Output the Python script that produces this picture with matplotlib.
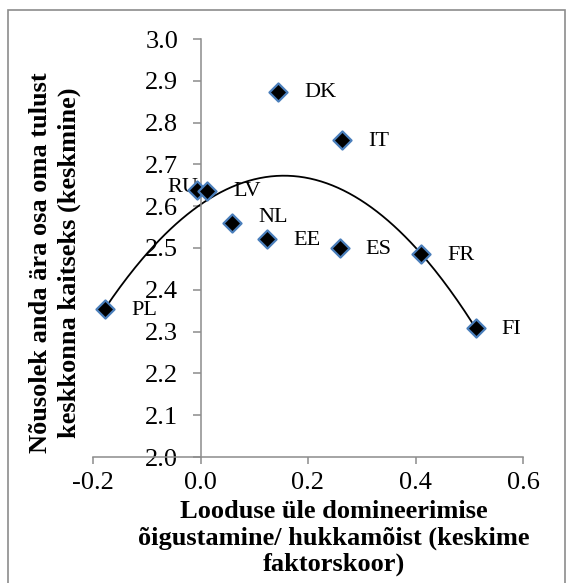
import numpy as np
import matplotlib
matplotlib.use('Agg')
import matplotlib.pyplot as plt
from matplotlib.patches import Rectangle

# Data
countries = ["DK", "IT", "RU", "LV", "NL", "EE", "ES", "FR", "FI", "PL"]
x_vals = [0.144, 0.263, -0.006, 0.012, 0.058, 0.124, 0.259, 0.411, 0.512, -0.177]
y_vals = [2.874, 2.758, 2.639, 2.637, 2.559, 2.521, 2.499, 2.485, 2.308, 2.353]
x_ticks = [-0.2, 0.0, 0.2, 0.4, 0.6]
y_ticks = [2.0, 2.1, 2.2, 2.3, 2.4, 2.5, 2.6, 2.7, 2.8, 2.9, 3.0]

y_title = "Nõusolek anda ära osa oma tulust\nkeskkonna kaitseks (keskmine)"
x_title = "Looduse üle domineerimise\nõigustamine/ hukkamõist (keskime\nfaktorskoor)"

W, H = 566, 583
plt.rcParams['font.family'] = ['Liberation Serif', 'DejaVu Serif']

fig = plt.figure(figsize=(W / 100, H / 100), dpi=100)
ax = fig.add_axes([93 / W, 1 - 457 / H, (523 - 93) / W, (457 - 39) / H])

# axis lines: vertical axis crosses at x = 0 (set before ticks, it resets them)
for s in ['top', 'right']:
    ax.spines[s].set_visible(False)
ax.spines['left'].set_position(('data', 0))
for s in ['left', 'bottom']:
    ax.spines[s].set_color('#8c8c8c')
    ax.spines[s].set_linewidth(1.1)

# polynomial (order 2) trendline, as in the spreadsheet
coef = np.polyfit(x_vals, y_vals, 2)
xs = np.linspace(min(x_vals), max(x_vals), 200)
ax.plot(xs, np.polyval(coef, xs), color='black', lw=1.3, zorder=2)

ax.scatter(x_vals, y_vals, marker='D', s=85, facecolor='black',
           edgecolor='#4a7ebb', linewidth=1.6, zorder=3)

for name, x, y in zip(countries, x_vals, y_vals):
    if name == "RU":
        ax.annotate(name, (x, y), xytext=(1, 2), textcoords='offset pixels',
                    ha='right', va='center', fontsize=16, zorder=2)
    elif name == "NL":
        ax.annotate(name, (x, y), xytext=(27, 6), textcoords='offset pixels',
                    ha='left', va='center', fontsize=16)
    else:
        ax.annotate(name, (x, y), xytext=(26, -1), textcoords='offset pixels',
                    ha='left', va='center', fontsize=16)

ax.set_xlim(-0.2, 0.6)
ax.set_ylim(2.0, 3.0)
ax.set_xticks(x_ticks)
ax.set_yticks(y_ticks)
ax.set_xticklabels([f"{t:.1f}" for t in x_ticks])
ax.set_yticklabels([f"{t:.1f}" for t in y_ticks])
ax.tick_params(axis='y', direction='out', length=6, width=1.1, color='#8c8c8c',
               pad=10, labelsize=19)
ax.tick_params(axis='x', direction='out', length=5, width=1.1, color='#8c8c8c',
               pad=6, labelsize=19)
ax.patch.set_visible(False)

fig.text(55 / W, 1 - 263 / H, y_title, rotation=90, ha='center', va='center',
         fontsize=19, fontweight='bold', linespacing=1.3, multialignment='center')
fig.text(334 / W, 1 - 538 / H, x_title, ha='center', va='center',
         fontsize=19, fontweight='bold', linespacing=1.18, multialignment='center')

fig.patches.append(Rectangle((8 / W, -0.01), (565 - 8) / W, 1 - 10 / H + 0.01,
                             transform=fig.transFigure, fill=False,
                             edgecolor='#8c8c8c', lw=1.2))

fig.savefig('out.png', dpi=100)
